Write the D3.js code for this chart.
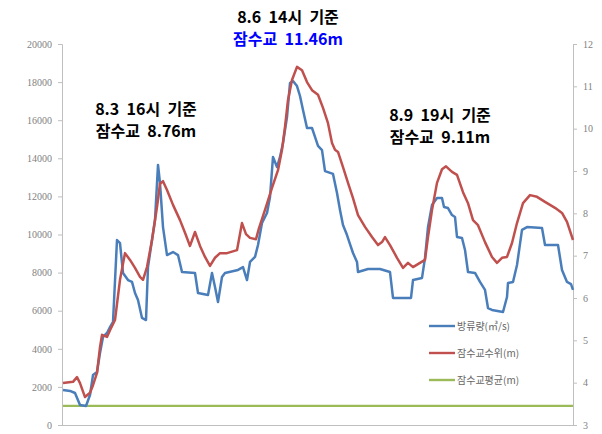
<!DOCTYPE html>
<html>
<head>
<meta charset="utf-8">
<script src="https://cdn.jsdelivr.net/npm/d3@7"></script>
<style>
html,body{margin:0;padding:0;background:#fff;}
svg{display:block;}
</style>
</head>
<body>
<svg id="chart" width="602" height="434"></svg>
<script>
// Time index (approx. half-pixel hours)
const flowT = [0,3.5,6,8.5,11.5,13.5,15,17,18.5,20,22,23.5,25,27,28.5,30,32.5,34.5,36,37.5,39.5,41.5,42.5,44.5,46,47.5,48.5,50,52,55,57.5,59.5,66,67.5,72.5,74.5,76,77.5,79.5,81,87.5,90,92,93.5,96,97.5,99.5,102,103.5,105,107,108.5,110,112,113.5,115,117,118.5,120,122,124.5,126,127.5,129.5,131,135,137,138.5,140,142,143.5,145,147,147.5,152.5,158.5,163.5,165,174,175,179.5,181,182.5,184.5,187,189.5,190.5,192.5,194.5,196,197,199.5,201,202.5,206,208.5,211,212.5,214.5,220,222,222.5,225,227,229.5,232,239.5,241,247.5,249.5,252,254,255];
// 방류량 (m³/s)
const flowValues = [1840,1790,1680,1050,1000,1575,2620,2780,3780,4620,4830,5140,5410,9710,9550,7980,7610,7510,6930,6560,5620,5510,8290,9710,10760,13650,12700,10390,8920,9080,8920,8030,7980,6930,6820,7980,7240,6460,7770,7980,8140,8290,7610,8560,8820,9450,10600,11130,11970,14070,13540,14070,14800,16170,17950,18060,17790,17270,16530,15590,15590,15120,14650,14430,13330,13180,12180,11290,10500,9970,9500,9030,8560,8030,8190,8190,8030,6670,6670,7610,7720,8770,10390,11550,11920,11920,11440,11390,11020,10920,9870,9820,9190,8030,7980,7510,7090,6140,6040,5930,6720,7450,7510,8400,10240,10390,10340,9450,9450,8140,7510,7400,7090];

const levelT = [0,5,7,8.5,11,13.5,15,17,18.5,19.5,22,23.5,26,28.5,31,33.5,36,38.5,40,42,44.5,47,48.5,50,52,55,58.5,61,63.5,66,68.5,71,73.5,76,78.5,82,87,89.5,91.5,93.5,96.5,98,101,104.5,107.5,109.5,111,112.5,114.5,117,119.5,122,124.5,127.5,130,132.5,134.5,136,137.5,140,142.5,145,147.5,151,154.5,157.5,159.5,161,163.5,167,170,172.5,175,178.5,181,182.5,184.5,187,189.5,191.5,194.5,197,200,202.5,205,207.5,211,214.5,217,219.5,222,224.5,227,230,233.5,237,241,246,249.5,252,255];
// 잠수교수위 (m)
const levelValues = [3.99,4.02,4.13,3.99,3.66,3.76,3.94,4.23,4.84,5.13,5.08,5.24,5.48,6.43,7.06,6.90,6.71,6.50,6.43,6.73,7.37,8.15,8.70,8.76,8.55,8.20,7.84,7.54,7.23,7.56,7.23,6.97,6.76,6.95,7.06,7.06,7.13,7.77,7.51,7.42,7.39,7.65,8.08,8.60,9.02,9.50,10.04,10.68,11.15,11.46,11.38,11.10,10.91,10.80,10.49,10.13,9.66,9.50,9.45,9.09,8.72,8.36,7.96,7.68,7.44,7.25,7.32,7.44,7.25,6.95,6.71,6.83,6.73,6.83,6.90,7.44,8.08,8.72,9.04,9.11,8.98,8.91,8.50,8.24,7.84,7.72,7.32,6.97,6.83,6.95,6.97,7.30,7.77,8.24,8.43,8.39,8.27,8.13,8.01,7.80,7.37];

// 잠수교평균 (m)
const avgT = [0,255];
const avgValues = [3.45,3.45];

const leftTicks = [0,2000,4000,6000,8000,10000,12000,14000,16000,18000,20000];
const rightTicks = [3,4,5,6,7,8,9,10,11,12];

const seriesNames = ["방류량(㎥/s)","잠수교수위(m)","잠수교평균(m)"];
const seriesColors = ["#4a7ebb","#c0504d","#9bbb59"];

const annotations = [
  {t:41.5, line1:"8.3  16시  기준", line2:"잠수교  8.76m", y:108, blue:false},
  {t:112.5, line1:"8.6  14시  기준", line2:"잠수교  11.46m", y:16, blue:true},
  {t:188.5, line1:"8.9  19시  기준", line2:"잠수교  9.11m", y:114, blue:false}
];

const svg = d3.select("#chart");
const x = d3.scaleLinear().domain([0,255]).range([63,573]);
const yL = d3.scaleLinear().domain([0,20000]).range([425,44]);
const yR = d3.scaleLinear().domain([3,12]).range([425,44]);

// axes
const axisColor = "#bfbfbf";
const gL = svg.append("g").attr("transform","translate(62,0)")
  .call(d3.axisLeft(yL).tickValues(leftTicks).tickSize(4).tickFormat(d3.format("d")));
const gR = svg.append("g").attr("transform","translate(573,0)")
  .call(d3.axisRight(yR).tickValues(rightTicks).tickSize(4).tickFormat(d3.format("d")));
[gL,gR].forEach(g=>{
  g.select(".domain").attr("stroke",axisColor);
  g.selectAll(".tick line").attr("stroke",axisColor);
  g.selectAll(".tick text").attr("fill","#7f7f7f").style("font-family","'Liberation Serif',serif").style("font-size","10px");
});
gL.selectAll(".tick text").attr("x",-10);
gR.selectAll(".tick text").attr("x",10);
svg.append("line").attr("x1",62).attr("x2",573).attr("y1",425.5).attr("y2",425.5).attr("stroke",axisColor);

// lines
const lineL = d3.line().x(d=>x(d[0])).y(d=>yL(d[1]));
const lineR = d3.line().x(d=>x(d[0])).y(d=>yR(d[1]));

svg.append("path").datum(avgT.map((t,i)=>[t,avgValues[i]]))
  .attr("d",lineR).attr("fill","none").attr("stroke",seriesColors[2]).attr("stroke-width",2.2);
svg.append("path").datum(flowT.map((t,i)=>[t,flowValues[i]]))
  .attr("d",lineL).attr("fill","none").attr("stroke",seriesColors[0]).attr("stroke-width",2.5)
  .attr("stroke-linejoin","round");
svg.append("path").datum(levelT.map((t,i)=>[t,levelValues[i]]))
  .attr("d",lineR).attr("fill","none").attr("stroke",seriesColors[1]).attr("stroke-width",2.5)
  .attr("stroke-linejoin","round");

// legend
const leg = svg.append("g");
seriesNames.forEach((n,i)=>{
  const yy = 326 + i*27;
  leg.append("line").attr("x1",429).attr("x2",455).attr("y1",yy).attr("y2",yy)
    .attr("stroke",seriesColors[i]).attr("stroke-width",2.4);
  leg.append("text").attr("x",457).attr("y",yy+4).text(n)
    .attr("fill","#666").style("font-family","'Noto Sans CJK KR'").style("font-size","10px");
});

// annotations
const keepSpaces = s => s.replace(/  /g, " \u00A0");
annotations.forEach(a=>{
  const g = svg.append("g").style("font-family","'Noto Sans CJK KR'").style("font-weight","700")
    .style("font-size","16px").attr("text-anchor","middle");
  g.append("text").attr("x",x(a.t)).attr("y",a.y+7).attr("fill","#000").text(keepSpaces(a.line1));
  g.append("text").attr("x",x(a.t)).attr("y",a.y+29).attr("fill",a.blue?"#0000ff":"#000").text(keepSpaces(a.line2));
});
</script>
</body>
</html>
